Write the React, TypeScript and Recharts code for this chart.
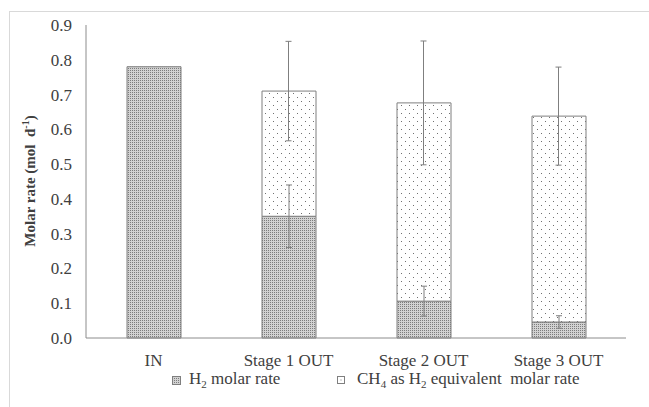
import React from "react";
import { ComposedChart, Bar, Line, XAxis, YAxis, ErrorBar, Legend } from "recharts";

const categories = ["IN", "Stage 1 OUT", "Stage 2 OUT", "Stage 3 OUT"];
const h2Rate = [0.78, 0.35, 0.106, 0.046];
const h2Err = [0, 0.09, 0.043, 0.018];
const ch4Rate = [0, 0.36, 0.57, 0.592];
const totalErr = [0, 0.143, 0.178, 0.141];
const yTicks = [0, 0.1, 0.2, 0.3, 0.4, 0.5, 0.6, 0.7, 0.8, 0.9];

const data = categories.map((name, i) => ({
    name,
    h2: h2Rate[i],
    h2Err: h2Err[i],
    ch4: ch4Rate[i],
    total: h2Rate[i] + ch4Rate[i],
    totalErr: totalErr[i],
}));

const FONT = "Liberation Serif, Times New Roman, serif";
const TEXT = "#404040";
const EDGE = "#7f7f7f";

function YLabel() {
    return (
        <text
            x={0}
            y={0}
            transform="translate(35, 181) rotate(-90)"
            textAnchor="middle"
            fontSize={15}
            fontWeight="bold"
            fill={TEXT}
            style={{ fontFamily: FONT }}
        >
            Molar rate (mol{"\u00a0 "}d
            <tspan dy={-6} fontSize={10}>-1</tspan>
            <tspan dy={6}>)</tspan>
        </text>
    );
}

function LegendBox() {
    return (
        <div style={{ position: "relative", height: 24, fontFamily: FONT, fontSize: 17, color: TEXT }}>
            <svg width={10} height={10} style={{ position: "absolute", left: 172, top: 8 }}>
                <rect x={0.5} y={0.5} width={8} height={8} fill="url(#h2pat)" stroke={EDGE} />
            </svg>
            <span style={{ position: "absolute", left: 189, top: 1, whiteSpace: "nowrap" }}>
                H<sub style={{ fontSize: 11 }}>2</sub> molar rate
            </span>
            <svg width={10} height={10} style={{ position: "absolute", left: 337, top: 8 }}>
                <rect x={0.5} y={0.5} width={7} height={7} fill="#fff" stroke={EDGE} />
                <rect x={3.5} y={3.5} width={1} height={1} fill="#777" />
            </svg>
            <span style={{ position: "absolute", left: 357, top: 1, whiteSpace: "nowrap" }}>
                CH<sub style={{ fontSize: 11 }}>4</sub> as H<sub style={{ fontSize: 11 }}>2</sub> equivalent{"\u00a0 "}molar rate
            </span>
        </div>
    );
}

const tickStyle = { fontSize: 17, fill: TEXT, style: { fontFamily: FONT } };

export default function App() {
    return (
        <div style={{ position: "absolute", left: 0, top: 0, width: 649, height: 407, background: "#fff", overflow: "hidden", fontFamily: FONT }}>
            <div
                style={{
                    position: "absolute",
                    left: 9,
                    top: 11,
                    width: 700,
                    height: 500,
                    borderTop: "1px solid #d9d9d9",
                    borderLeft: "1px solid #d9d9d9",
                }}
            />
            <div style={{ position: "absolute", left: 0, top: 0 }}>
                <ComposedChart width={649} height={407} data={data} margin={{ top: 25, right: 23, bottom: 15, left: 0 }}>
                    <defs>
                        <pattern id="h2pat" width={2} height={2} patternUnits="userSpaceOnUse">
                            <rect x={0} y={0} width={2} height={2} fill="#d2d2d2" />
                            <rect x={0} y={0} width={1} height={1} fill="#7c7c7c" />
                        </pattern>
                        <pattern id="ch4pat" width={8} height={8} patternUnits="userSpaceOnUse">
                            <rect x={0} y={0} width={8} height={8} fill="#ffffff" />
                            <rect x={1} y={1} width={1} height={1} fill="#707070" />
                            <rect x={5} y={5} width={1} height={1} fill="#707070" />
                        </pattern>
                    </defs>
                    <XAxis
                        dataKey="name"
                        tickLine={false}
                        axisLine={{ stroke: "#8c8c8c" }}
                        tick={tickStyle}
                        tickMargin={10}
                        height={30}
                    />
                    <YAxis
                        domain={[0, 0.9]}
                        ticks={yTicks}
                        tickFormatter={(v: number) => v.toFixed(1)}
                        tickLine={false}
                        axisLine={{ stroke: "#8c8c8c" }}
                        tick={tickStyle}
                        tickMargin={8}
                        width={86}
                        label={<YLabel />}
                    />
                    <Legend verticalAlign="bottom" height={24} content={() => <LegendBox />} />
                    <Bar dataKey="h2" stackId="a" barSize={54} fill="url(#h2pat)" stroke={EDGE} strokeWidth={1} isAnimationActive={false}>
                        <ErrorBar dataKey="h2Err" width={3} stroke={EDGE} strokeWidth={1} direction="y" />
                    </Bar>
                    <Bar dataKey="ch4" stackId="a" barSize={54} fill="url(#ch4pat)" stroke={EDGE} strokeWidth={1} isAnimationActive={false} />
                    <Line
                        dataKey="total"
                        stroke="none"
                        dot={false}
                        activeDot={false}
                        legendType="none"
                        isAnimationActive={false}
                    >
                        <ErrorBar dataKey="totalErr" width={3} stroke={EDGE} strokeWidth={1} direction="y" />
                    </Line>
                </ComposedChart>
            </div>
        </div>
    );
}
